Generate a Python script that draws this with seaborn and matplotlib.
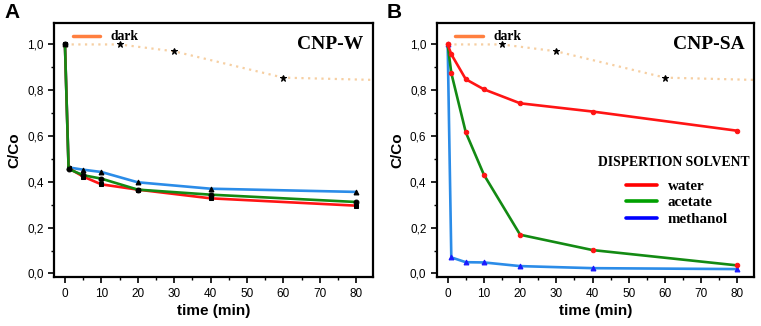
import numpy as np
import pandas as pd
import matplotlib
matplotlib.use('Agg')
import matplotlib.pyplot as plt
import seaborn as sns
from matplotlib.lines import Line2D
from matplotlib.ticker import MultipleLocator, FuncFormatter

# time points (min)
time = [0, 1, 5, 10, 20, 40, 80]

# dark (adsorption) reference
dark_time = [0, 15, 30, 60, 85]
dark_vals = [1.0, 1.0, 0.97, 0.855, 0.845]
dark_star_time = [15, 30, 60]
dark_star_vals = [1.0, 0.97, 0.855]

# panel A: CNP-W
a_water = [1.0, 0.46, 0.423, 0.389, 0.366, 0.328, 0.296]
a_acetate = [1.0, 0.456, 0.429, 0.414, 0.366, 0.344, 0.312]
a_methanol = [1.0, 0.463, 0.453, 0.443, 0.398, 0.370, 0.356]

# panel B: CNP-SA
b_water = [1.0, 0.957, 0.848, 0.804, 0.743, 0.707, 0.623]
b_acetate = [1.0, 0.875, 0.616, 0.431, 0.169, 0.102, 0.035]
b_methanol = [1.0, 0.070, 0.049, 0.048, 0.032, 0.023, 0.019]

legend_labels = ['water', 'acetate', 'methanol']

sns.set_style('ticks', {'text.color': 'black', 'axes.labelcolor': 'black',
                        'xtick.color': 'black', 'ytick.color': 'black',
                        'axes.edgecolor': 'black'})
plt.rcParams['font.family'] = ['Liberation Sans', 'DejaVu Sans']

RED = '#ff1414'
GREEN = '#138a13'
BLUE = '#2b8ce8'
DARK_LINE = '#f6cfa2'
SERIF = {'family': 'Liberation Serif', 'weight': 'bold', 'size': 9.8}
SERIF_BIG = {'family': 'Liberation Serif', 'weight': 'bold', 'size': 10.8}

fig = plt.figure(figsize=(7.61, 3.26), dpi=100)
axA = fig.add_axes([0.071, 0.150, 0.419, 0.779])
axB = fig.add_axes([0.574, 0.150, 0.417, 0.779])

comma = FuncFormatter(lambda v, p: f'{v:.1f}'.replace('.', ','))


def draw_dark(ax):
    sns.lineplot(x=dark_time, y=dark_vals, ax=ax, color=DARK_LINE, lw=1.6,
                 linestyle=(0, (1, 2)), zorder=1)
    sns.lineplot(x=dark_star_time, y=dark_star_vals, ax=ax, color='black',
                 marker='*', markersize=5, markeredgecolor='black',
                 linestyle='none', zorder=5)


def style_axes(ax, title):
    ax.set_xlim(-3, 84.6)
    ax.set_ylim(-0.016, 1.093)
    ax.xaxis.set_major_locator(MultipleLocator(10))
    ax.xaxis.set_minor_locator(MultipleLocator(5))
    ax.yaxis.set_major_locator(MultipleLocator(0.2))
    ax.yaxis.set_minor_locator(MultipleLocator(0.1))
    ax.yaxis.set_major_formatter(comma)
    ax.tick_params(which='major', direction='out', length=4, width=1.2, labelsize=8.5)
    ax.tick_params(which='minor', direction='out', length=2, width=1)
    for sp in ax.spines.values():
        sp.set_linewidth(1.6)
        sp.set_visible(True)
    ax.set_xlabel('time (min)', fontsize=11, fontweight='bold', labelpad=3)
    ax.set_ylabel('C/Co', fontsize=11, fontweight='bold', labelpad=4)
    ax.text(0.97, 0.95, title, transform=ax.transAxes, ha='right', va='top',
            fontsize=14, fontweight='bold', family='Liberation Serif')
    h = [Line2D([], [], color='#ff7f3f', lw=2.5)]
    leg = ax.legend(h, ['dark'], loc='upper left', bbox_to_anchor=(0.02, 1.02),
                    frameon=False, handlelength=2.0, handletextpad=0.8, prop=SERIF)
    return leg


# panel A
draw_dark(axA)
sns.lineplot(x=time, y=a_water, ax=axA, color=RED, lw=1.9, marker='s', markersize=3.5,
             markerfacecolor='black', markeredgecolor='black', zorder=3)
sns.lineplot(x=time, y=a_acetate, ax=axA, color=GREEN, lw=1.9, marker='o', markersize=3.5,
             markerfacecolor='black', markeredgecolor='black', zorder=3)
sns.lineplot(x=time, y=a_methanol, ax=axA, color=BLUE, lw=1.9, marker='^', markersize=3.5,
             markerfacecolor='black', markeredgecolor='black', zorder=2)
style_axes(axA, 'CNP-W')

# panel B
draw_dark(axB)
sns.lineplot(x=time, y=b_methanol, ax=axB, color=BLUE, lw=1.9, marker='^', markersize=3.5,
             markerfacecolor='#1a1aff', markeredgecolor='#1a1aff', zorder=2)
sns.lineplot(x=time, y=b_acetate, ax=axB, color=GREEN, lw=1.9, marker='o', markersize=3.2,
             markerfacecolor=RED, markeredgecolor=RED, zorder=3)
sns.lineplot(x=time, y=b_water, ax=axB, color=RED, lw=1.9, marker='o', markersize=3.2,
             markerfacecolor=RED, markeredgecolor=RED, zorder=3)
leg_dark = style_axes(axB, 'CNP-SA')
axB.add_artist(leg_dark)
axB.text(0.748, 0.453, 'DISPERTION SOLVENT', transform=axB.transAxes,
         ha='center', va='center', fontdict=SERIF)
handles = [Line2D([], [], color=c, lw=2.6) for c in ['#ff0000', '#00a000', '#0000ff']]
axB.legend(handles, legend_labels, loc='upper left', bbox_to_anchor=(0.596, 0.385),
           frameon=False, borderpad=0, borderaxespad=0, handlelength=2.05,
           handletextpad=0.75, labelspacing=0.2, prop=SERIF_BIG)

fig.text(0.006, 0.99, 'A', fontsize=15, fontweight='bold', va='top')
fig.text(0.508, 0.99, 'B', fontsize=15, fontweight='bold', va='top')

fig.savefig('out.png', dpi=100)
